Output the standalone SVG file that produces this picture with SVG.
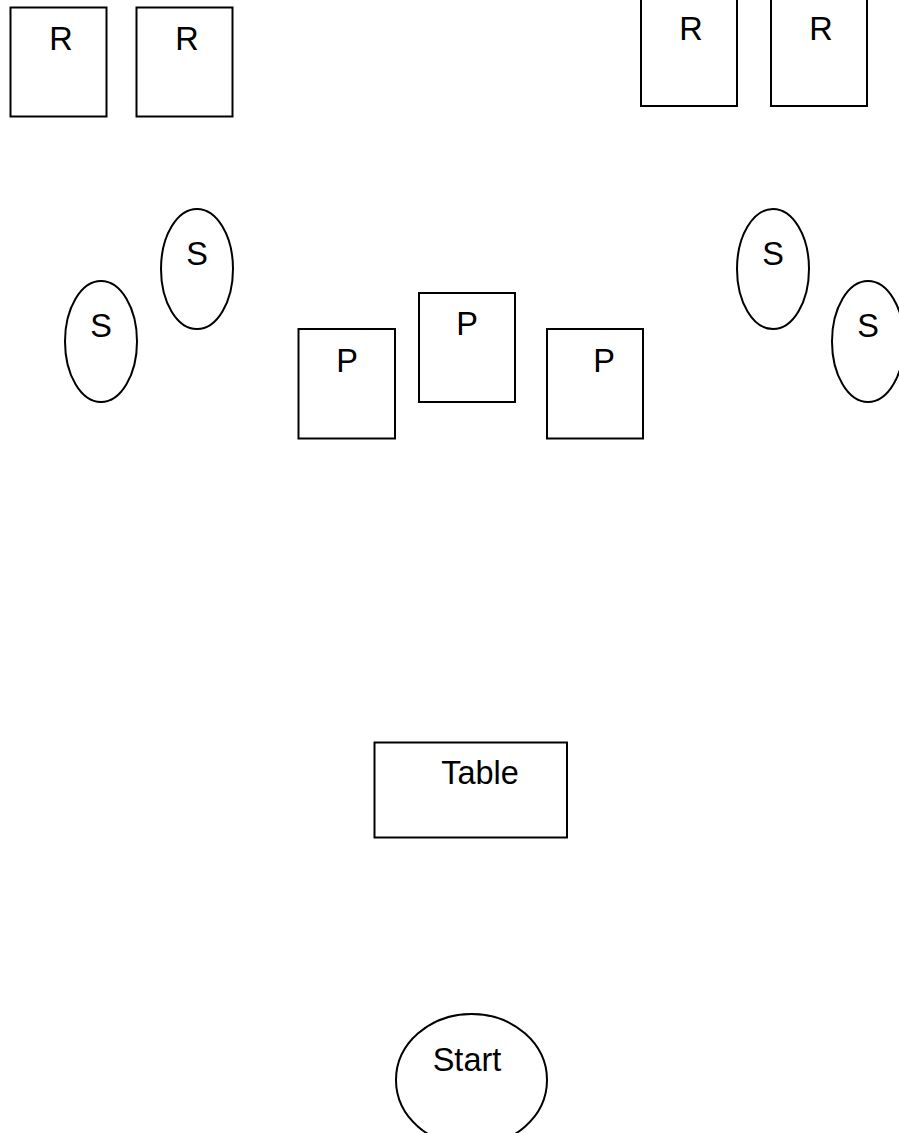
<svg xmlns="http://www.w3.org/2000/svg" width="899" height="1133" viewBox="0 0 899 1133">
<style>
.s{fill:#fff;stroke:#000;stroke-width:2}
.t{font-family:"Liberation Sans",Arial,sans-serif;font-size:32.5px;fill:#000;text-anchor:middle}
</style>
<rect width="899" height="1133" fill="#fff"/>
<g id="r1"><rect class="s" x="10.5" y="7.5" width="96" height="109"/><text class="t" x="61" y="50">R</text></g>
<g id="r2"><rect class="s" x="136.5" y="7.5" width="96" height="109"/><text class="t" x="187" y="50">R</text></g>
<g id="r3"><rect class="s" x="641" y="-3" width="96" height="109"/><text class="t" x="691" y="40">R</text></g>
<g id="r4"><rect class="s" x="771" y="-3" width="96" height="109"/><text class="t" x="821" y="40">R</text></g>
<g id="s1"><ellipse class="s" cx="197" cy="269" rx="36" ry="60"/><text class="t" x="197" y="265">S</text></g>
<g id="s2"><ellipse class="s" cx="101" cy="341.5" rx="36" ry="60.5"/><text class="t" x="101" y="337">S</text></g>
<g id="s3"><ellipse class="s" cx="773" cy="269" rx="36" ry="60"/><text class="t" x="773" y="265">S</text></g>
<g id="s4"><ellipse class="s" cx="868" cy="341.5" rx="36" ry="60.5"/><text class="t" x="868" y="337">S</text></g>
<g id="p1"><rect class="s" x="298.5" y="329" width="96.5" height="109.5"/><text class="t" x="347" y="372">P</text></g>
<g id="p2"><rect class="s" x="419" y="293" width="96" height="109"/><text class="t" x="467" y="335">P</text></g>
<g id="p3"><rect class="s" x="547" y="329" width="96" height="109.5"/><text class="t" x="604" y="372">P</text></g>
<g id="table"><rect class="s" x="374.5" y="742.5" width="192.5" height="95"/><text class="t" x="480" y="784">Table</text></g>
<g id="start"><ellipse class="s" cx="471.5" cy="1080" rx="75.5" ry="66"/><text class="t" x="467" y="1071">Start</text></g>
<g id="connectors"></g>
</svg>
